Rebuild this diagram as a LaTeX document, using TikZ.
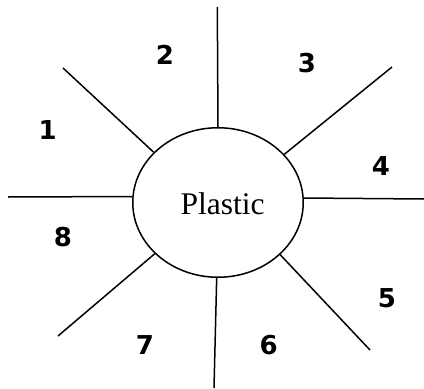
\documentclass[tikz,border=0pt]{standalone}
\usepackage{fontspec}
\setmainfont{Liberation Serif}
\newfontfamily\digitfont{DejaVu Sans}
\usetikzlibrary{shapes.geometric}
\tikzset{
  ray/.style={line width=1.5pt, black},
  hub/.style={ellipse, draw, line width=1.5pt, minimum width=170.5pt, minimum height=149.5pt, inner sep=0pt},
  num/.style={inner sep=0pt, anchor=center, font=\digitfont\bfseries\fontsize{26}{30}\selectfont}
}
\begin{document}
\begin{tikzpicture}[x=1pt,y=-1pt]
\useasboundingbox (0,0) rectangle (424,389);
\node[hub, label={[xshift=4.5pt, yshift=-1pt, font=\fontsize{31.5}{36}\selectfont]center:Plastic}] (P) at (218,202.5) {};
\coordinate (oT) at (217.3,7);
\coordinate (oUL) at (63,68);
\coordinate (oUR) at (392,67);
\coordinate (oL) at (8,197);
\coordinate (oR) at (424,199);
\coordinate (oLL) at (58,336);
\coordinate (oB) at (214,388);
\coordinate (oLR) at (370,350);
\draw[ray] (oT) -- (P.90.5);
\draw[ray] (oUL) -- (P.142);
\draw[ray] (oUR) -- (P.36);
\draw[ray] (oL) -- (P.176.4);
\draw[ray] (oR) -- (P.3.6);
\draw[ray] (oLL) -- (P.219.9);
\draw[ray] (oB) -- (P.269.3);
\draw[ray] (oLR) -- (P.-40);
\node[num] (n1) at (47.7,129.7) {1};
\node[num] (n2) at (165,55) {2};
\node[num] (n3) at (307,63) {3};
\node[num] (n4) at (381,166) {4};
\node[num] (n5) at (387,298) {5};
\node[num] (n6) at (268.7,345) {6};
\node[num] (n7) at (145,345) {7};
\node[num] (n8) at (63,237) {8};
\end{tikzpicture}
\end{document}
